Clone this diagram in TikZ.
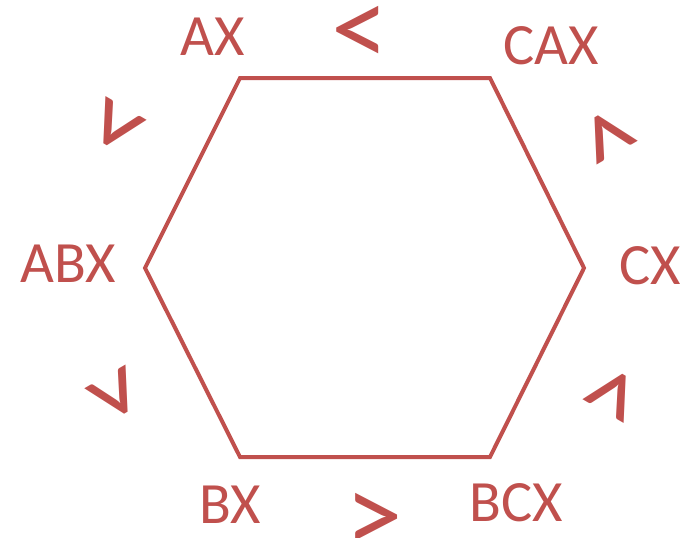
\documentclass[tikz,border=0pt]{standalone}
\usepackage{fontspec}
\setmainfont{Carlito}
\usetikzlibrary{positioning}
\definecolor{hexred}{HTML}{C0504D}

\tikzset{
  vlabel/.style={text=hexred, inner sep=0pt, font=\fontsize{58.5}{62}\selectfont},
  order/.style={text=hexred, inner sep=0pt, font=\fontsize{115}{120}\selectfont, rotate=#1, yshift=-6pt},
  order/.default=0,
}

\begin{document}
\begin{tikzpicture}[x=1pt, y=-1pt]
        \useasboundingbox (0,0) rectangle (688,538);
        % hexagon corners
        \coordinate (ax) at (240,78);
        \coordinate (cax) at (490,78);
        \coordinate (cx) at (584,268);
        \coordinate (bcx) at (490,457);
        \coordinate (bx) at (240,457);
        \coordinate (abx) at (145,268);
        \draw[hexred, line width=4pt, line join=miter] (ax) -- (cax) -- (cx) -- (bcx) -- (bx) -- (abx) -- cycle;
        % corner labels
        \node[vlabel] (lax) at (213,37) {AX};
        \node[vlabel] (lcax) at (551,46) {CAX};
        \node[vlabel] (lcx) at (650,266) {CX};
        \node[vlabel] (lbcx) at (516,503) {BCX};
        \node[vlabel] (lbx) at (230,505) {BX};
        \node[vlabel] (labx) at (68,264) {ABX};
        % order signs on the edges
        \node[order] (top) at (360,30) {<};
        \node[order=60] (upleft) at (118,125) {<};
        \node[order=-60] (upright) at (608,137) {<};
        \node[order=120] (lowleft) at (115,393) {<};
        \node[order=-120] (lowright) at (612,395) {<};
        \node[order] (bottom) at (374,517) {>};
    \end{tikzpicture}
\end{document}
